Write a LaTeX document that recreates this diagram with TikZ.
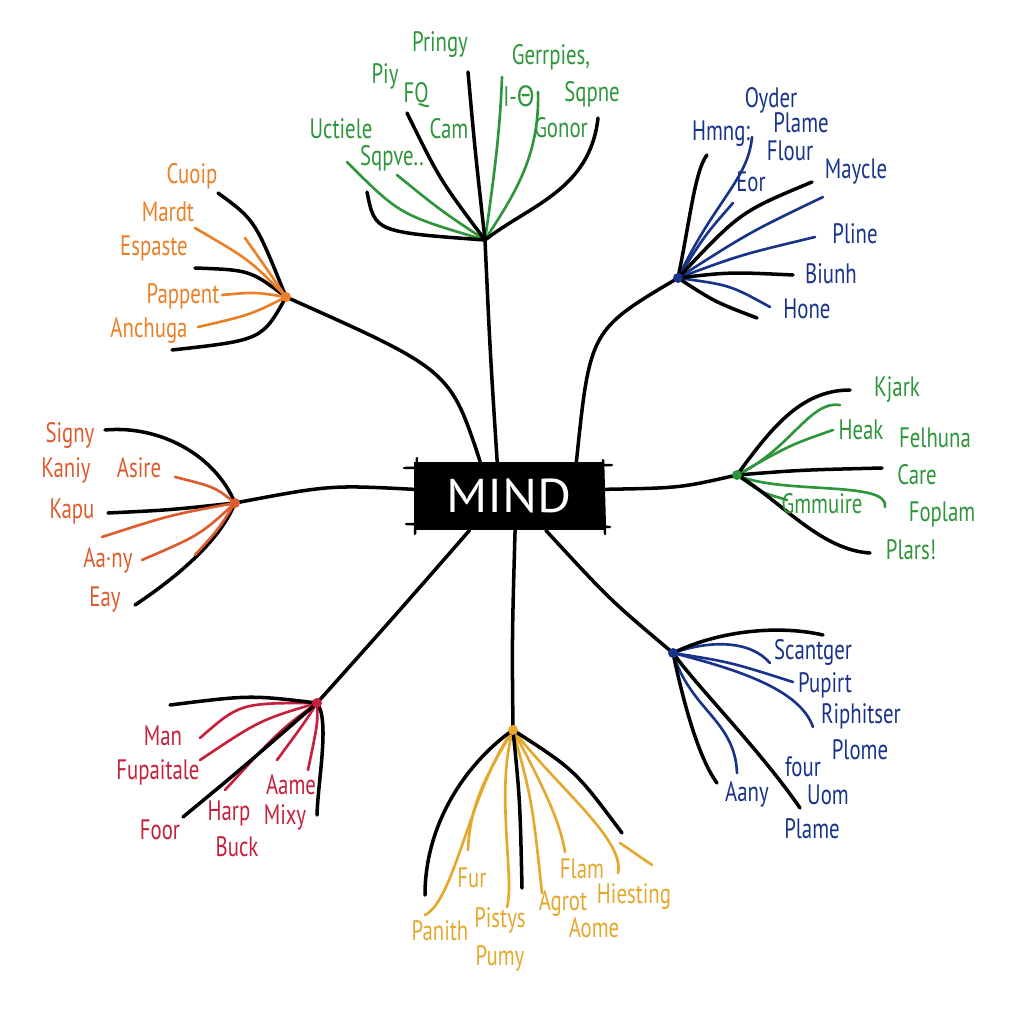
\documentclass[tikz,border=0pt]{standalone}
\usepackage{fontspec}
\setmainfont{PT Sans}[FakeStretch=0.74]
\newfontfamily\gkfont{DejaVu Sans}[FakeStretch=0.8]
\definecolor{gG}{RGB}{46,150,58}
\definecolor{bB}{RGB}{24,52,138}
\definecolor{oO}{RGB}{234,128,40}
\definecolor{lO}{RGB}{220,92,45}
\definecolor{rR}{RGB}{198,32,60}
\definecolor{yY}{RGB}{228,168,45}
\begin{document}
\begin{tikzpicture}[x=0.02cm,y=-0.02cm,line cap=round,line join=round,
  blk/.style={draw=black,line width=2pt},
  cl/.style={draw=#1,line width=1.5pt},
  lab/.style={text=#1,font=\fontsize{16}{18}\selectfont,inner sep=0pt}]
\fill[white] (0,0) rectangle (1024,1024);
\useasboundingbox (0,0) rectangle (1024,1024);
% central node
\node[fill=black,minimum width=3.8cm,minimum height=1.36cm,inner sep=0pt,
  text=white,font=\fontsize{27}{30}\selectfont\addfontfeature{FakeStretch=1.1}] (mind) at (509,496) {MIND};
\draw[black,line width=1.4pt] (404,468) -- (612,465) (406,524) -- (610,527)
  (417,458) -- (415,534) (603,460) -- (605,534);
% hubs
\coordinate (hG) at (485,240);
\coordinate (hB) at (678,278);
\coordinate (hO) at (286,297);
\coordinate (hL) at (235,503);
\coordinate (hR) at (737,475);
\coordinate (hBR) at (673,653);
\coordinate (hRd) at (317,703);
\coordinate (hY) at (513,730);
% main branches
\draw[blk] (mind.109) .. controls (490,350) .. (hG);
\draw[blk] (mind.27) .. controls (590,330) .. (hB);
\draw[blk] (mind.130) .. controls (450,370) .. (hO);
\draw[blk] (mind.176) .. controls (330,485) .. (hL);
\draw[blk] (mind.4) .. controls (680,488) .. (hR);
\draw[blk] (mind.221) .. controls (400,610) .. (hRd);
\draw[blk] (mind.280) .. controls (512,640) .. (hY);
\draw[blk] (mind.317) .. controls (610,600) .. (hBR);
% ---------- top green ----------
\coordinate (g1) at (468,72); \coordinate (g2) at (407,113);
\coordinate (g3) at (367,192); \coordinate (g4) at (598,118);
\coordinate (g5) at (347,162); \coordinate (g6) at (397,175);
\coordinate (g7) at (502,77); \coordinate (g8) at (538,92);
\draw[cl=gG] (hG) .. controls (400,215) .. (g5);
\draw[cl=gG] (hG) .. controls (440,210) .. (g6);
\draw[cl=gG] (hG) .. controls (495,170) and (500,130) .. (g7);
\draw[cl=gG] (hG) .. controls (510,200) and (540,160) .. (g8);
\draw[blk] (hG) .. controls (475,150) .. (g1);
\draw[blk] (hG) .. controls (440,180) .. (g2);
\draw[blk] (hG) .. controls (375,232) .. (g3);
\draw[blk] (hG) .. controls (530,205) and (590,190) .. (g4);
\node[lab=gG] (tPringy) at (440,45) {Pringy};
\node[lab=gG] (tPiy) at (385,76) {Piy};
\node[lab=gG] (tFQ) at (416,95) {FQ};
\node[lab=gG] (tUctiele) at (341,129) {Uctiele};
\node[lab=gG] (tSqpve) at (392,158) {Sqpve..};
\node[lab=gG] (tCam) at (449,129) {Cam};
\node[lab=gG] (tGerr) at (551,57) {Gerrpies,};
\node[lab=gG] (tIO) at (519,96) {I-{\gkfont Θ}};
\node[lab=gG] (tSqpne) at (592,94) {Sqpne};
\node[lab=gG] (tGonor) at (561,128) {Gonor};
% ---------- top blue ----------
\coordinate (b1) at (707,155); \coordinate (b2) at (752,137);
\coordinate (b3) at (733,203); \coordinate (b4) at (812,182);
\coordinate (b5) at (823,197); \coordinate (b6) at (815,237);
\coordinate (b7) at (793,275); \coordinate (b8) at (770,307);
\coordinate (b9) at (757,318);
\draw[cl=bB] (hB) .. controls (715,200) and (748,180) .. (b2);
\draw[cl=bB] (hB) .. controls (705,235) .. (b3);
\draw[cl=bB] (hB) .. controls (750,232) .. (b5);
\draw[cl=bB] (hB) .. controls (740,255) .. (b6);
\draw[cl=bB] (hB) .. controls (730,285) .. (b8);
\draw[blk] (hB) .. controls (690,220) and (695,170) .. (b1);
\draw[blk] (hB) .. controls (740,212) .. (b4);
\draw[blk] (hB) .. controls (730,272) .. (b7);
\draw[blk] (hB) .. controls (715,302) .. (b9);
\fill[bB] (hB) circle (5);
\node[lab=bB] (tOyder) at (771,100) {Oyder};
\node[lab=bB] (tPlame) at (801,123) {Plame};
\node[lab=bB] (tHmng) at (721,134) {Hmng:};
\node[lab=bB] (tFlour) at (790,151) {Flour};
\node[lab=bB] (tEor) at (751,182) {Eor};
\node[lab=bB] (tMaycle) at (856,172) {Maycle};
\node[lab=bB] (tPline) at (855,234) {Pline};
\node[lab=bB] (tBiunh) at (831,274) {Biunh};
\node[lab=bB] (tHone) at (807,309) {Hone};
% ---------- top-left orange ----------
\coordinate (o1) at (218,193); \coordinate (o2) at (195,228);
\coordinate (o3) at (195,268); \coordinate (o4) at (222,295);
\coordinate (o5) at (198,327); \coordinate (o6) at (172,350);
\coordinate (o7) at (245,238);
\draw[blk] (hO) .. controls (255,220) .. (o1);
\draw[blk] (hO) .. controls (250,270) .. (o3);
\draw[blk] (hO) .. controls (262,340) .. (o6);
\draw[cl=oO] (hO) .. controls (262,262) .. (o7);
\draw[cl=oO] (hO) .. controls (250,260) .. (o2);
\draw[cl=oO] (hO) .. controls (255,292) .. (o4);
\draw[cl=oO] (hO) .. controls (250,315) .. (o5);
\fill[oO] (hO) circle (5);
\node[lab=oO] (tCuoip) at (192,176) {Cuoip};
\node[lab=oO] (tMardt) at (168,212) {Mardt};
\node[lab=oO] (tEspaste) at (154,248) {Espaste};
\node[lab=oO] (tPappent) at (183,296) {Pappent};
\node[lab=oO] (tAnchuga) at (149,330) {Anchuga};
% ---------- left orange ----------
\coordinate (l1) at (105,430); \coordinate (l2) at (175,477);
\coordinate (l3) at (108,513); \coordinate (l4) at (102,537);
\coordinate (l5) at (142,560); \coordinate (l6) at (135,605);
\coordinate (l7) at (195,555);
\draw[blk] (hL) .. controls (215,455) and (160,425) .. (l1);
\draw[blk] (hL) .. controls (170,510) .. (l3);
\draw[blk] (hL) .. controls (220,540) and (180,575) .. (l6);
\draw[cl=lO] (hL) .. controls (215,487) .. (l2);
\draw[cl=lO] (hL) .. controls (170,515) .. (l4);
\draw[cl=lO] (hL) .. controls (200,535) .. (l5);
\draw[cl=lO] (hL) .. controls (218,530) .. (l7);
\fill[lO] (hL) circle (5);
\node[lab=lO] (tSigny) at (70,435) {Signy};
\node[lab=lO] (tKaniy) at (66,470) {Kaniy};
\node[lab=lO] (tAsire) at (139,468) {Asire};
\node[lab=lO] (tKapu) at (72,511) {Kapu};
\node[lab=lO] (tAany) at (108,560) {Aa·ny};
\node[lab=lO] (tEay) at (105,600) {Eay};
% ---------- right green ----------
\coordinate (r1) at (850,390); \coordinate (r2) at (840,405);
\coordinate (r3) at (833,430); \coordinate (r4) at (882,468);
\coordinate (r5) at (885,507); \coordinate (r6) at (787,500);
\coordinate (r7) at (870,553);
\draw[cl=gG] (hR) .. controls (790,450) and (810,400) .. (r2);
\draw[cl=gG] (hR) .. controls (790,445) .. (r3);
\draw[cl=gG] (hR) .. controls (780,495) and (890,480) .. (r5);
\draw[cl=gG] (hR) .. controls (760,492) .. (r6);
\draw[blk] (hR) .. controls (770,430) and (800,390) .. (r1);
\draw[blk] (hR) .. controls (800,470) .. (r4);
\draw[blk] (hR) .. controls (780,500) and (820,550) .. (r7);
\fill[gG] (hR) circle (5);
\node[lab=gG] (tKjark) at (897,390) {Kjark};
\node[lab=gG] (tHeak) at (861,430) {Heak};
\node[lab=gG] (tFelhuna) at (935,438) {Felhuna};
\node[lab=gG] (tCare) at (917,475) {Care};
\node[lab=gG] (tGmmuire) at (822,504) {Gmmuire};
\node[lab=gG] (tFoplam) at (942,514) {Foplam};
\node[lab=gG] (tPlars) at (911,550) {Plars!};
% ---------- bottom-right blue ----------
\coordinate (q1) at (823,635); \coordinate (q2) at (770,663);
\coordinate (q3) at (793,682); \coordinate (q4) at (813,727);
\coordinate (q5) at (800,808); \coordinate (q6) at (737,773);
\coordinate (q7) at (717,783);
\draw[cl=bB] (hBR) .. controls (710,640) and (750,640) .. (q2);
\draw[cl=bB] (hBR) .. controls (730,662) .. (q3);
\draw[cl=bB] (hBR) .. controls (740,670) and (800,690) .. (q4);
\draw[cl=bB] (hBR) .. controls (690,710) and (735,720) .. (q6);
\draw[blk] (hBR) .. controls (720,630) and (780,625) .. (q1);
\draw[blk] (hBR) .. controls (700,690) and (760,750) .. (q5);
\draw[blk] (hBR) .. controls (685,710) and (700,760) .. (q7);
\fill[bB] (hBR) circle (5);
\node[lab=bB] (tScantger) at (813,652) {Scantger};
\node[lab=bB] (tPupirt) at (825,685) {Pupirt};
\node[lab=bB] (tRiphitser) at (861,716) {Riphitser};
\node[lab=bB] (tPlome) at (860,750) {Plome};
\node[lab=bB] (tfour) at (803,767) {four};
\node[lab=bB] (tUom) at (828,795) {Uom};
\node[lab=bB] (tAany2) at (747,794) {Aany};
\node[lab=bB] (tPlame2) at (812,829) {Plame};
% ---------- bottom-left red ----------
\coordinate (d1) at (170,705); \coordinate (d2) at (200,738);
\coordinate (d3) at (200,760); \coordinate (d4) at (225,790);
\coordinate (d5) at (277,760); \coordinate (d6) at (308,770);
\coordinate (d7) at (317,815); \coordinate (d8) at (183,817);
\draw[cl=rR] (hRd) .. controls (240,703) .. (d2);
\draw[cl=rR] (hRd) .. controls (260,720) .. (d3);
\draw[cl=rR] (hRd) .. controls (280,730) .. (d4);
\draw[cl=rR] (hRd) .. controls (305,722) .. (d5);
\draw[cl=rR] (hRd) .. controls (318,722) .. (d6);
\draw[blk] (hRd) .. controls (250,695) .. (d1);
\draw[blk] (hRd) .. controls (330,720) and (318,780) .. (d7);
\draw[blk] (hRd) .. controls (240,770) .. (d8);
\fill[rR] (hRd) circle (5);
\node[lab=rR] (tMan) at (163,736) {Man};
\node[lab=rR] (tFupaitale) at (158,772) {Fupaitale};
\node[lab=rR] (tFoor) at (160,830) {Foor};
\node[lab=rR] (tHarp) at (229,813) {Harp};
\node[lab=rR] (tBuck) at (237,847) {Buck};
\node[lab=rR] (tAame) at (291,785) {Aame};
\node[lab=rR] (tMixy) at (285,817) {Mixy};
% ---------- bottom yellow ----------
\coordinate (y1) at (425,895); \coordinate (y2) at (425,915);
\coordinate (y3) at (507,907); \coordinate (y4) at (522,888);
\coordinate (y5) at (542,893); \coordinate (y6) at (565,852);
\coordinate (y7) at (618,873); \coordinate (y8) at (622,833);
\coordinate (y9) at (620,843); \coordinate (y10) at (652,865);
\coordinate (y11) at (468,850);
\draw[cl=yY] (hY) .. controls (470,790) and (455,900) .. (y2);
\draw[cl=yY] (hY) .. controls (490,770) and (470,800) .. (y11);
\draw[cl=yY] (hY) .. controls (495,790) and (515,880) .. (y3);
\draw[cl=yY] (hY) .. controls (532,800) .. (y5);
\draw[cl=yY] (hY) .. controls (540,780) and (560,820) .. (y6);
\draw[cl=yY] (hY) .. controls (560,790) and (625,840) .. (y7);
\draw[cl=yY] (y9) -- (y10);
\draw[blk] (hY) .. controls (470,760) and (425,820) .. (y1);
\draw[blk] (hY) .. controls (520,800) .. (y4);
\draw[blk] (hY) .. controls (575,770) .. (y8);
\fill[yY] (hY) circle (5);
\node[lab=yY] (tFur) at (472,878) {Fur};
\node[lab=yY] (tPanith) at (440,931) {Panith};
\node[lab=yY] (tPistys) at (500,920) {Pistys};
\node[lab=yY] (tPumy) at (500,958) {Pumy};
\node[lab=yY] (tFlam) at (582,869) {Flam};
\node[lab=yY] (tAgrot) at (563,903) {Agrot};
\node[lab=yY] (tHiesting) at (634,897) {Hiesting};
\node[lab=yY] (tAome) at (594,928) {Aome};
\end{tikzpicture}
\end{document}
